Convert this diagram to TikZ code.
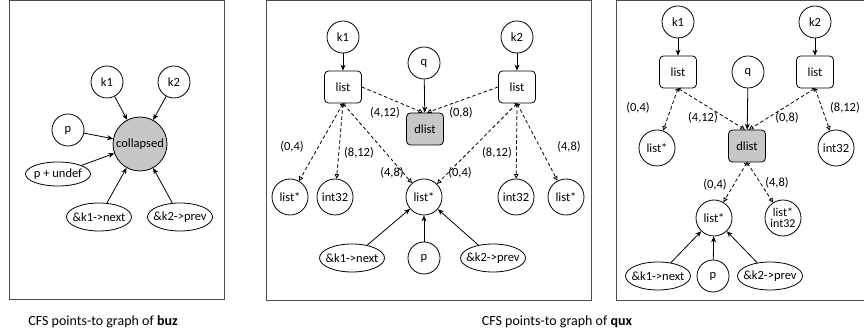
\documentclass[tikz,border=0pt]{standalone}
\usepackage{fontspec}
\setmainfont{Carlito}
\usetikzlibrary{arrows.meta, shapes.geometric, positioning}

\begin{document}
\begin{tikzpicture}[x=1pt, y=-1pt, line width=0.8pt,
    >={Stealth[length=6pt, width=5pt]},
    font=\fontsize{12.5}{14}\selectfont,
    var/.style={circle, draw, minimum size=32pt, inner sep=1pt},
    obj/.style={circle, draw, minimum size=36pt, inner sep=0.5pt},
    box/.style={rectangle, draw, rounded corners=4pt, minimum width=37pt, minimum height=32pt},
    oval/.style={ellipse, draw, minimum width=65pt, minimum height=28pt, inner xsep=-4pt, inner ysep=0pt},
    frame/.style={draw=black!70, line width=1pt},
    pto/.style={dash pattern=on 3.5pt off 2.5pt, -{Triangle[open, length=4.5pt, width=4.5pt]}},
    ptd/.style={pto, {Straight Barb[length=2pt, width=4pt]}-{Triangle[open, length=4.5pt, width=4.5pt]}},
    off/.style={font=\fontsize{12.5}{14}\selectfont},
    captext/.style={font=\fontsize{14}{16}\selectfont}]
    \useasboundingbox (0,0) rectangle (864,336);

    % 1. buz: mọi thứ gộp vào một nút
    \draw[frame] (9,1) rectangle (224,300);
    \node[var] (ak1) at (107,82) {k1};
    \node[var] (ak2) at (174,82) {k2};
    \node[var] (ap) at (68,130) {p};
    \node[circle, draw, fill=black!22, minimum size=54pt, inner sep=0pt] (coll) at (140,144) {collapsed};
    \node[oval, minimum height=24pt] (aundef) at (58,174) {p + undef};
    \node[oval] (anext) at (99,217) {\&k1->next};
    \node[oval] (aprev) at (180,217) {\&k2->prev};
    \foreach \s in {ak1, ak2, ap, aundef, anext, aprev}
        \draw[->] (\s) -- (coll);
    \node[captext] (cap1) at (103,322) {CFS points-to graph of \textbf{buz}};

    % 2. qux (trái)
    \draw[frame] (266,1) rectangle (591,301);
    \node[var] (bk1) at (343,37) {k1};
    \node[var] (bk2) at (517,37) {k2};
    \node[var] (bq) at (424,63) {q};
    \node[box] (bl1) at (343,87) {list};
    \node[box] (bl2) at (517,87) {list};
    \node[box, fill=black!22] (bd) at (425,129) {dlist};
    \node[obj] (bs1) at (290,197) {list*};
    \node[obj] (bi1) at (335,197) {int32};
    \node[obj] (bs2) at (424,197) {list*};
    \node[obj] (bi2) at (516,197) {int32};
    \node[obj] (bs3) at (566,197) {list*};
    \node[oval] (bnext) at (352,258) {\&k1->next};
    \node[var] (bp) at (424,258) {p};
    \node[oval] (bprev) at (493,258) {\&k2->prev};

    \draw[->] (bk1) -- (bl1);
    \draw[->] (bk2) -- (bl2);
    \draw[->] (bq) -- (bd);
    \draw[pto] (bl1.east) -- ([xshift=-2pt]bd.north);
    \draw[pto] (bl2.west) -- ([xshift=2pt]bd.north);
    \draw[ptd] (bl1.south) -- (bs1);
    \draw[ptd] (bl1.south) -- (bi1);
    \draw[ptd] (bl1.south) -- (bs2);
    \draw[ptd] (bl2.south) -- (bs2);
    \draw[ptd] (bl2.south) -- (bi2);
    \draw[ptd] (bl2.south) -- (bs3);
    \foreach \s in {bnext, bp, bprev}
        \draw[->] (\s) -- (bs2);

    \node[off] (bo1) at (385,113) {(4,12)};
    \node[off] (bo2) at (461,113) {(0,8)};
    \node[off] (bo3) at (292,147) {(0,4)};
    \node[off] (bo4) at (359,153) {(8,12)};
    \node[off] (bo5) at (392,173) {(4,8)};
    \node[off] (bo6) at (460,173) {(0,4)};
    \node[off] (bo7) at (497,153) {(8,12)};
    \node[off] (bo8) at (569,147) {(4,8)};

    % 3. qux (phải)
    \draw[frame] (616,1) rectangle (868,301);
    \node[var] (ck1) at (678,22) {k1};
    \node[var] (ck2) at (815,22) {k2};
    \node[box] (cl1) at (678,72) {list};
    \node[box] (cl2) at (815,72) {list};
    \node[var] (cq) at (748,72) {q};
    \node[box, fill=black!22] (cd) at (747,146) {dlist};
    \node[obj] (cs1) at (657,148) {list*};
    \node[obj] (ci1) at (836,148) {int32};
    \node[obj] (cs2) at (714,218) {list*};
    \node[obj, align=center, inner sep=0pt, font=\fontsize{12}{11}\selectfont] (csi) at (783,218) {list*\\int32};
    \node[oval] (cnext) at (658,276) {\&k1->next};
    \node[var] (cp) at (713,276) {p};
    \node[oval] (cprev) at (770,276) {\&k2->prev};

    \draw[->] (ck1) -- (cl1);
    \draw[->] (ck2) -- (cl2);
    \draw[->] (cq) -- (cd);
    \draw[ptd] (cl1.south) -- ([xshift=-2pt]cd.north);
    \draw[ptd] (cl2.south) -- ([xshift=2pt]cd.north);
    \draw[ptd] (cl1.south) -- (cs1);
    \draw[ptd] (cl2.south) -- (ci1);
    \draw[ptd] (cd.south) -- (cs2);
    \draw[ptd] (cd.south) -- (csi);
    \foreach \s in {cnext, cp, cprev}
        \draw[->] (\s) -- (cs2);

    \node[off] (co1) at (638,108) {(0,4)};
    \node[off] (co2) at (703,118) {(4,12)};
    \node[off] (co3) at (787,118) {(0,8)};
    \node[off] (co4) at (845,108) {(8,12)};
    \node[off] (co5) at (715,185) {(0,4)};
    \node[off] (co6) at (777,183) {(4,8)};

    \node[captext] (cap2) at (557,322) {CFS points-to graph of \textbf{qux}};
\end{tikzpicture}
\end{document}
